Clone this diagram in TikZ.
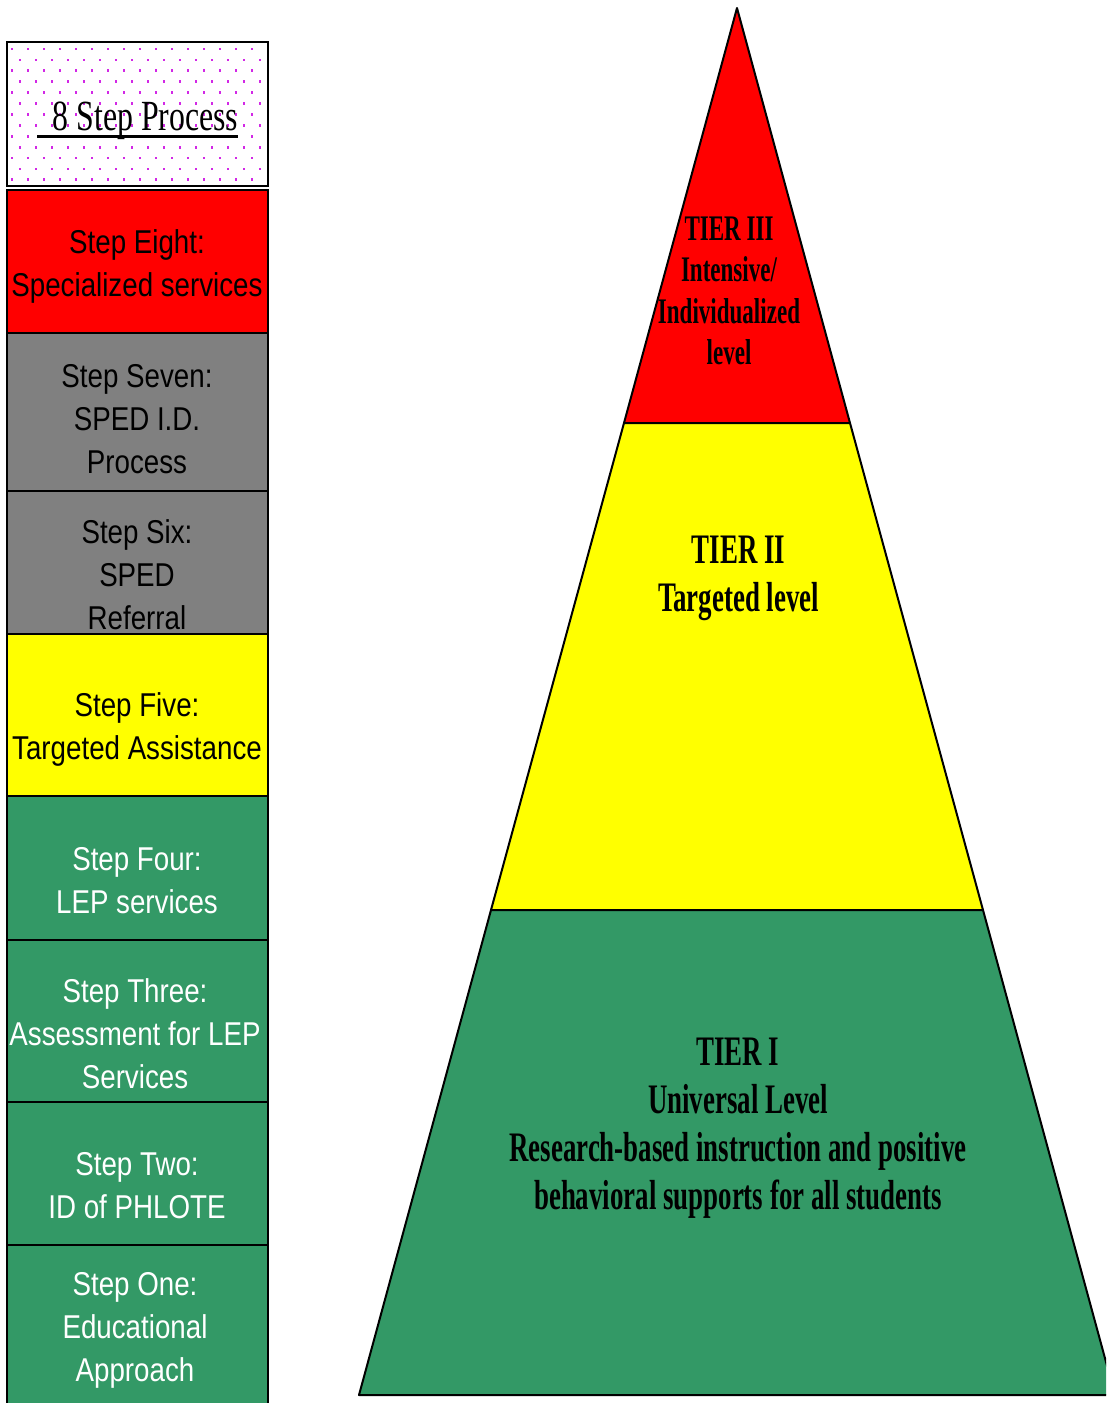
\documentclass[tikz,border=0pt]{standalone}
\usepackage{fontspec}
\newfontfamily\stepfont{Liberation Sans}[FakeStretch=0.84]
\newfontfamily\tierfont{Liberation Serif}[FakeStretch=0.64]
\newfontfamily\titlefont{Liberation Serif}[FakeStretch=0.74]
\definecolor{stepred}{RGB}{255,0,0}
\definecolor{stepgray}{RGB}{128,128,128}
\definecolor{stepyellow}{RGB}{255,255,0}
\definecolor{stepgreen}{RGB}{51,153,102}
\definecolor{dotpink}{RGB}{210,40,230}
\tikzset{
  stepbox/.style={draw=black, line width=2pt},
  steptext/.style={align=center, font=\stepfont\fontsize{33}{43}\selectfont, inner sep=0pt},
  tiertext/.style={align=center, font=\tierfont\bfseries\fontsize{42}{48}\selectfont, inner sep=0pt},
  tiersmall/.style={align=center, font=\tierfont\bfseries\fontsize{36}{41.3}\selectfont, inner sep=0pt},
  tierpart/.style={draw=black, line width=2pt, line join=round},
}
\begin{document}
\begin{tikzpicture}[x=1pt,y=-1pt]
\useasboundingbox (0,0) rectangle (1106,1403);
\begin{scope}
\clip (0,0) rectangle (1106,1403);
% title box
\path[fill=white] (7,42) rectangle (268,186);
\foreach \j in {0,...,12}{
  \pgfmathsetmacro{\yy}{49+10.9*\j}
  \pgfmathsetmacro{\off}{mod(\j,2)*8}
  \foreach \i in {0,...,15}{
    \pgfmathsetmacro{\xx}{12+16*\i+\off}
    \ifdim\xx pt<265pt
      \fill[dotpink] (\xx-1.4,\yy-1.4) rectangle (\xx+1.4,\yy+1.4);
    \fi
  }
}
\draw[stepbox] (7,42) rectangle (268,186);
\node[anchor=base, inner sep=0pt, font=\titlefont\fontsize{43}{48}\selectfont] (title) at (145.5,130) {8 Step Process};
\draw[line width=3pt] (37,136) -- (238,136);
% step boxes
\draw[stepbox, fill=stepred] (7,190) rectangle (268,333);
\draw[stepbox, fill=stepgray] (7,333) rectangle (268,491);
\draw[stepbox, fill=stepgray] (7,491) rectangle (268,634);
\draw[stepbox, fill=stepyellow] (7,634) rectangle (268,796);
\draw[stepbox, fill=stepgreen] (7,796) rectangle (268,940);
\draw[stepbox, fill=stepgreen] (7,940) rectangle (268,1102);
\draw[stepbox, fill=stepgreen] (7,1102) rectangle (268,1245);
\draw[stepbox, fill=stepgreen] (7,1245) rectangle (268,1410);
\node[steptext] (s8) at (137,266) {Step Eight:\\Specialized services};
\node[steptext] (s7) at (137,419) {Step Seven:\\SPED I.D.\\Process};
\node[steptext] (s6) at (137,575) {Step Six:\\SPED\\Referral};
\node[steptext] (s5) at (137,729) {Step Five:\\Targeted Assistance};
\node[steptext, text=white] (s4) at (137,881) {Step Four:\\LEP services};
\node[steptext, text=white] (s3) at (135,1034) {Step Three:\\Assessment for LEP\\Services};
\node[steptext, text=white] (s2) at (137,1186) {Step Two:\\ID of PHLOTE};
\node[steptext, text=white] (s1) at (135,1330) {Step One:\\Educational\\Approach};
% pyramid
\draw[tierpart, fill=stepred] (737,8) -- (850,423) -- (624,423) -- cycle;
\draw[tierpart, fill=stepyellow] (624,423) -- (850,423) -- (983,910) -- (491,910) -- cycle;
\draw[tierpart, fill=stepgreen] (491,910) -- (983,910) -- (1115,1395) -- (359,1395) -- cycle;
\node[tiersmall] (t3) at (729,291) {TIER III\\Intensive/\\Individualized\\level};
\node[tiertext] (t2) at (738.5,578) {TIER II\\Targeted level};
\node[tiertext] (t1) at (738,1128) {TIER I\\Universal Level\\Research-based instruction and positive\\behavioral supports for all students};
\end{scope}
\end{tikzpicture}
\end{document}
